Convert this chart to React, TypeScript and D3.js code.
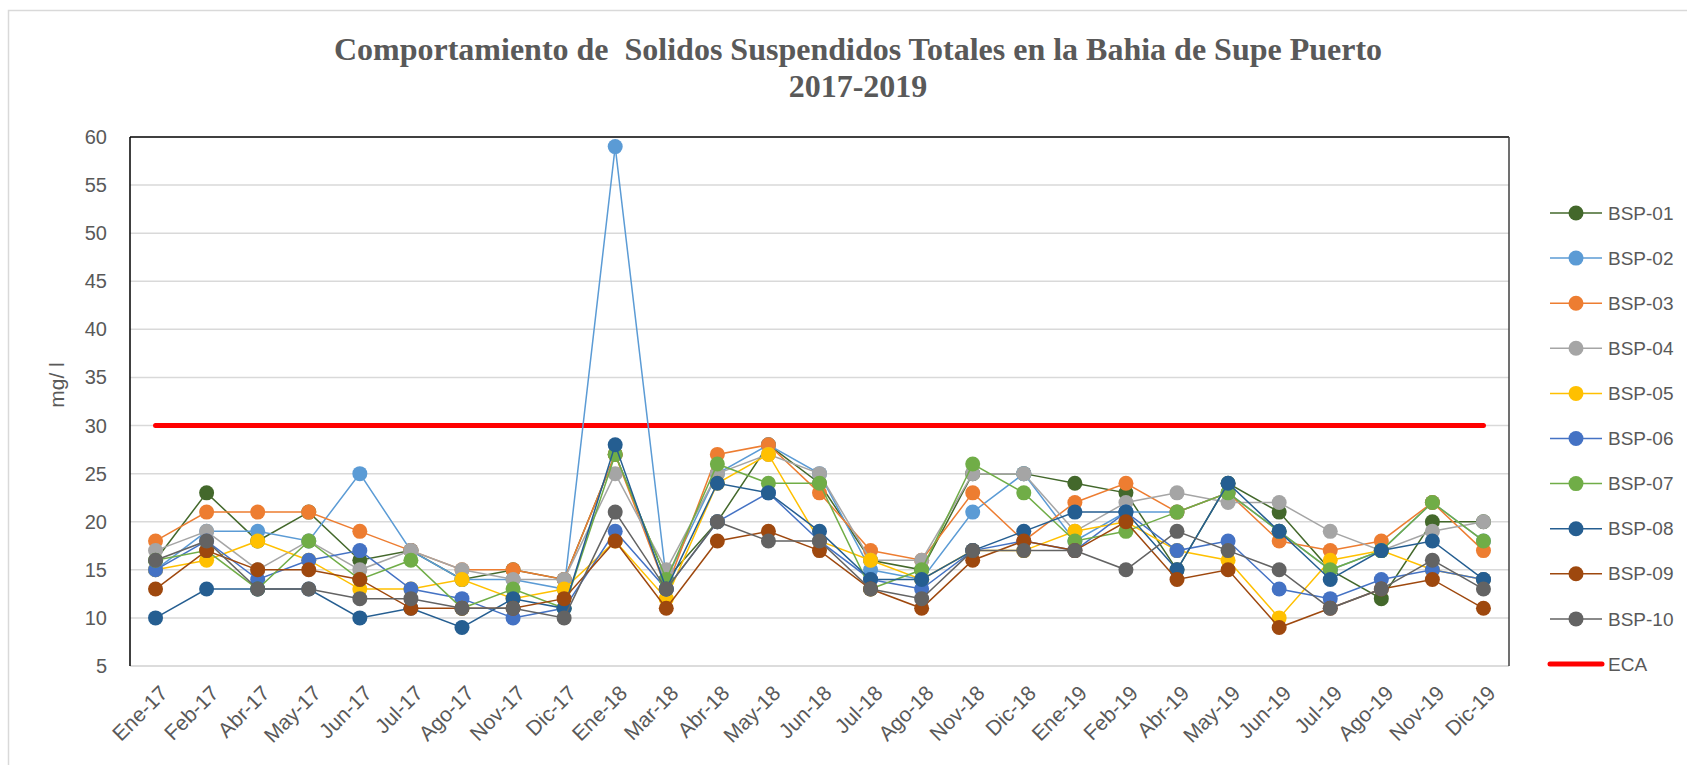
import React from "react";
import * as d3 from "d3";

const categories = ["Ene-17","Feb-17","Abr-17","May-17","Jun-17","Jul-17","Ago-17","Nov-17","Dic-17","Ene-18","Mar-18","Abr-18","May-18","Jun-18","Jul-18","Ago-18","Nov-18","Dic-18","Ene-19","Feb-19","Abr-19","May-19","Jun-19","Jul-19","Ago-19","Nov-19","Dic-19"];

const bsp01 = [16,23,18,21,16,17,14,15,14,27,14,20,28,24,16,15,25,25,24,23,15,24,21,15,12,20,20];
const bsp02 = [15,19,19,18,25,17,14,14,13,59,14,25,28,25,15,14,21,25,18,21,21,23,19,15,17,22,18];
const bsp03 = [18,21,21,21,19,17,15,15,14,27,13,27,28,23,17,16,23,18,22,24,21,23,18,17,18,22,17];
const bsp04 = [17,19,15,18,15,17,15,14,14,25,15,25,27,25,16,16,25,25,19,22,23,22,22,19,17,19,20];
const bsp05 = [15,16,18,16,13,13,14,12,13,18,12,24,27,18,16,14,17,17,19,20,17,16,10,16,17,15,14];
const bsp06 = [15,18,14,16,17,13,12,10,11,19,13,20,23,18,14,13,17,18,17,21,17,18,13,12,14,15,14];
const bsp07 = [16,17,13,18,14,16,11,13,11,27,14,26,24,24,13,15,26,23,18,19,21,23,19,15,17,22,18];
const bsp08 = [10,13,13,13,10,11,9,12,11,28,13,24,23,19,14,14,17,19,21,21,15,24,19,14,17,18,14];
const bsp09 = [13,17,15,15,14,11,11,11,12,18,11,18,19,17,13,11,16,18,17,20,14,15,9,11,13,14,11];
const bsp10 = [16,18,13,13,12,12,11,11,10,21,13,20,18,18,13,12,17,17,17,15,19,17,15,11,13,16,13];
const ecaValue = 30;

const seriesNames = ["BSP-01","BSP-02","BSP-03","BSP-04","BSP-05","BSP-06","BSP-07","BSP-08","BSP-09","BSP-10"];
const seriesValues = [bsp01,bsp02,bsp03,bsp04,bsp05,bsp06,bsp07,bsp08,bsp09,bsp10];
const seriesColors = ["#43682b","#5b9bd5","#ed7d31","#a5a5a5","#ffc000","#4472c4","#70ad47","#255e91","#9e480e","#636363"];
const yTicks = [5,10,15,20,25,30,35,40,45,50,55,60];

const W = 1687, H = 765;
const plot = { left: 130, right: 1509, top: 137, bottom: 666 };
const textColor = "#595959";
const sans = "'Liberation Sans', Arial, sans-serif";
const serif = "'Liberation Serif', 'Times New Roman', serif";

export default function App() {
  const x = d3.scaleBand<string>().domain(categories).range([plot.left, plot.right]);
  const cx = (c: string) => (x(c) as number) + x.bandwidth() / 2;
  const y = d3.scaleLinear().domain([5, 60]).range([plot.bottom, plot.top]);
  const line = d3.line<number>().x((_, i) => cx(categories[i])).y((v) => y(v));

  const legendX = 1550;
  const legendY0 = 213;
  const legendStep = 45.1;

  return (
    <svg width={W} height={H} style={{ position: "absolute", left: 0, top: 0, background: "#fff" }}>
      <rect x={0} y={0} width={W} height={H} fill="#fff" />
      <rect x={8.5} y={10.5} width={1700} height={800} fill="none" stroke="#d9d9d9" strokeWidth={1.5} />
      {/* title */}
      <text x={858} y={60} textAnchor="middle" fontFamily={serif} fontWeight="bold" fontSize={32} fill={textColor} style={{ whiteSpace: "pre" }}>
        {"Comportamiento de  Solidos Suspendidos Totales en la Bahia de Supe Puerto"}
      </text>
      <text x={858} y={97} textAnchor="middle" fontFamily={serif} fontWeight="bold" fontSize={32} fill={textColor}>
        2017-2019
      </text>
      {/* gridlines */}
      {yTicks.filter((t) => t > 5 && t < 60).map((t) => (
        <line key={t} x1={plot.left} x2={plot.right} y1={y(t)} y2={y(t)} stroke="#d9d9d9" strokeWidth={1.5} />
      ))}
      <line x1={plot.left} x2={plot.right} y1={y(5)} y2={y(5)} stroke="#d0d0d0" strokeWidth={1.5} />
      <line x1={plot.left} x2={plot.right} y1={y(60)} y2={y(60)} stroke="#000" strokeWidth={1.5} />
      <line x1={plot.left} x2={plot.left} y1={y(60)} y2={y(5)} stroke="#000" strokeWidth={1.5} />
      <line x1={plot.right} x2={plot.right} y1={y(60)} y2={y(5)} stroke="#404040" strokeWidth={1.5} />
      {/* y ticks */}
      {yTicks.map((t) => (
        <text key={t} x={107} y={y(t)} dy="0.35em" textAnchor="end" fontFamily={sans} fontSize={20} fill={textColor}>{t}</text>
      ))}
      <text transform={`translate(64,385) rotate(-90)`} textAnchor="middle" fontFamily={sans} fontSize={21} fill={textColor}>mg/ l</text>
      {/* x labels */}
      {categories.map((c) => (
        <text key={c} transform={`translate(${cx(c) + 3},${684}) rotate(-45)`} textAnchor="end" dy="0.7em" fontFamily={sans} fontSize={21} fill={textColor}>{c}</text>
      ))}
      {/* ECA */}
      <line x1={cx(categories[0])} x2={cx(categories[categories.length - 1])} y1={y(ecaValue)} y2={y(ecaValue)} stroke="#ff0000" strokeWidth={5} strokeLinecap="round" />
      {/* series */}
      {seriesValues.map((vals, si) => (
        <g key={si}>
          <path d={line(vals) as string} fill="none" stroke={seriesColors[si]} strokeWidth={1.5} />
          {vals.map((v, i) => (
            <circle key={i} cx={cx(categories[i])} cy={y(v)} r={7.5} fill={seriesColors[si]} />
          ))}
        </g>
      ))}
      {/* legend */}
      {seriesNames.map((n, i) => (
        <g key={n} transform={`translate(${legendX},${legendY0 + i * legendStep})`}>
          <line x1={0} x2={52} y1={0} y2={0} stroke={seriesColors[i]} strokeWidth={1.5} />
          <circle cx={26} cy={0} r={7.5} fill={seriesColors[i]} />
          <text x={58} y={0} dy="0.35em" fontFamily={sans} fontSize={19} fill={textColor}>{n}</text>
        </g>
      ))}
      <g transform={`translate(${legendX},${legendY0 + 10 * legendStep})`}>
        <line x1={0} x2={52} y1={0} y2={0} stroke="#ff0000" strokeWidth={5} strokeLinecap="round" />
        <text x={58} y={0} dy="0.35em" fontFamily={sans} fontSize={19} fill={textColor}>ECA</text>
      </g>
    </svg>
  );
}
